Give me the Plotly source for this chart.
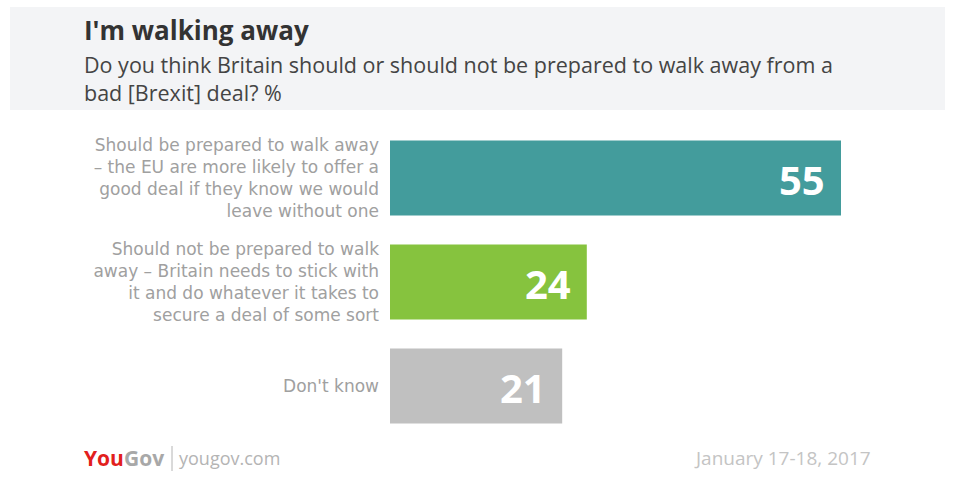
import plotly.graph_objects as go

categories = [
    "Should be prepared to walk away<br>– the EU are more likely to offer a<br>good deal if they know we would<br>leave without one",
    "Should not be prepared to walk<br>away – Britain needs to stick with<br>it and do whatever it takes to<br>secure a deal of some sort",
    "Don't know",
]
values = [55, 24, 21]
colors = ["#439c9c", "#86c33e", "#c0c0c0"]

title = "I'm walking away"
subtitle = "Do you think Britain should or should not be prepared to walk away from a<br>bad [Brexit] deal? %"
date_text = "January 17-18, 2017"

W, H = 960, 490
L, R, T, B = 390, 0, 126, 52
pw, ph = W - L - R, H - T - B


def px(x):
    return (x - L) / pw


def py(y):
    return (H - B - y) / ph


FONT = "Open Sans"
LFONT = "DejaVu Sans"

fig = go.Figure()
fig.add_trace(go.Bar(
    x=values, y=categories, orientation="h",
    marker=dict(color=colors, line=dict(width=0)),
    width=0.72, hoverinfo="skip",
))

annotations = []
for c, v in zip(categories, values):
    annotations.append(dict(
        x=v, y=c, xref="x", yref="y", text=f"<b>{v}</b>", showarrow=False,
        xanchor="right", yanchor="middle", xshift=-14, yshift=-1,
        font=dict(family=FONT, size=40, color="white"),
    ))

annotations += [
    dict(x=px(82), y=py(30), xref="paper", yref="paper", text=f"<b>{title}</b>",
         showarrow=False, xanchor="left", yanchor="middle",
         font=dict(family=FONT, size=26, color="#333333")),
    dict(x=px(82), y=py(78), xref="paper", yref="paper", text=subtitle,
         showarrow=False, xanchor="left", yanchor="middle", align="left",
         font=dict(family=FONT, size=21.5, color="#444444")),
    dict(x=px(82), y=py(458), xref="paper", yref="paper",
         text="<b><span style='color:#e2201c'>You</span><span style='color:#a8a8a8'>Gov</span></b>",
         showarrow=False, xanchor="left", yanchor="middle",
         font=dict(family=FONT, size=21, color="#a8a8a8")),
    dict(x=px(177), y=py(458), xref="paper", yref="paper", text="yougov.com",
         showarrow=False, xanchor="left", yanchor="middle",
         font=dict(family=FONT, size=18, color="#b4b4b4")),
    dict(x=px(873), y=py(458), xref="paper", yref="paper", text=date_text,
         showarrow=False, xanchor="right", yanchor="middle",
         font=dict(family=FONT, size=19, color="#c4c4c4")),
]

shapes = [
    dict(type="rect", xref="paper", yref="paper", x0=px(10), x1=px(945),
         y0=py(110), y1=py(7), fillcolor="#f3f4f6", line=dict(width=0), layer="below"),
    dict(type="line", xref="paper", yref="paper", x0=px(172), x1=px(172),
         y0=py(446), y1=py(471), line=dict(color="#b4b4b4", width=1)),
]

fig.update_layout(
    width=W, height=H,
    margin=dict(l=L, r=R, t=T, b=B, pad=0),
    paper_bgcolor="white", plot_bgcolor="white",
    showlegend=False,
    xaxis=dict(range=[0, pw / 8.2], visible=False, fixedrange=True),
    yaxis=dict(autorange="reversed", showgrid=False, zeroline=False, showline=False,
               ticks="", ticklabelstandoff=10,
               tickfont=dict(family=LFONT, size=17, color="#a0a0a0")),
    annotations=annotations, shapes=shapes,
    bargap=0.28,
)

fig.write_html("out.html", config={"displayModeBar": False})
